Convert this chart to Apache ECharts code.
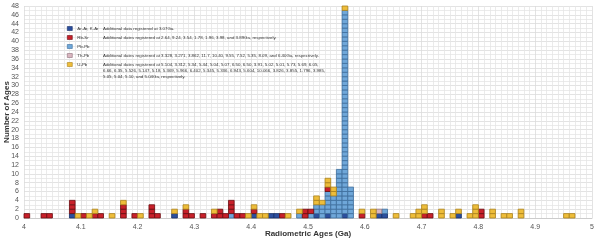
<!DOCTYPE html>
<html>
<head>
<meta charset="utf-8">
<script src="https://cdn.jsdelivr.net/npm/echarts@6/dist/echarts.min.js"></script>
<style>
  html, body { margin: 0; padding: 0; background: #fff; }
  #chart { width: 600px; height: 240px; }
</style>
</head>
<body>
<div id="chart"></div>
<script>
// bin starts, 4.00 .. 4.99 Ga, width 0.01
const binStart = 4.0;
const binWidth = 0.01;

// counts per bin (index = bin number)
const arAr = { 8: 1, 26: 1, 40: 1, 43: 1, 44: 1, 51: 1, 53: 1, 56: 1, 62: 1, 63: 1, 76: 1 };
const pbPb = { 36: 1, 48: 1, 50: 1, 51: 2, 52: 3, 53: 5, 54: 5, 55: 11, 56: 46, 57: 7, 63: 1 };
const rbSr = { 0: 1, 3: 1, 4: 1, 8: 3, 10: 1, 12: 1, 13: 1, 17: 3, 19: 1, 22: 3, 23: 1, 28: 2, 29: 1,
  31: 1, 33: 1, 34: 2, 35: 1, 36: 3, 37: 1, 38: 1, 40: 1, 45: 1, 49: 2, 50: 1, 53: 1, 59: 1,
  70: 1, 71: 1, 80: 2 };
const thPb = { 62: 1 };
const uPb = { 9: 1, 11: 1, 12: 1, 15: 1, 17: 1, 20: 1, 26: 1, 28: 1, 33: 1, 39: 1, 40: 1, 41: 1,
  42: 1, 46: 1, 48: 1, 51: 2, 52: 1, 53: 2, 54: 2, 56: 1, 59: 1, 61: 2, 65: 1, 68: 1, 69: 2,
  70: 2, 73: 2, 75: 1, 76: 1, 78: 1, 79: 3, 82: 2, 84: 1, 85: 1, 87: 2, 95: 1, 96: 1 };

const xTicks = [4, 4.1, 4.2, 4.3, 4.4, 4.5, 4.6, 4.7, 4.8, 4.9, 5];

// legend notes
const notes = {
  "Ar-Ar, K-Ar": "Additional data registered at 3.07Ga.",
  "Rb-Sr": "Additional dates registered at 2.64, 9.24, 3.54, 1.78, 1.96, 3.98, and 3.89Ga, respectively.",
  "Th-Pb": "Additional dates registered at 3.328, 3.271, 3.862, 11.7, 10.40, 9.55, 7.52, 5.35, 8.09, and 6.40Ga, respectively.",
  "U-Pb": "Additional dates registered at 5.104, 3.312, 5.34, 5.44, 5.04, 5.07, 6.50, 6.50, 3.91, 5.02, 5.01, 5.73, 5.69, 6.05,\n" +
    "6.66, 6.35, 5.526, 5.147, 5.18, 5.369, 5.966, 6.402, 5.345, 5.336, 6.943, 5.604, 10.066, 3.826, 3.855, 1.796, 3.985,\n" +
    "5.05, 5.04, 5.10, and 5.04Ga, respectively."
};

// stack order bottom -> top
const methods = [
  { name: "Ar-Ar, K-Ar", counts: arAr, color: "#2c4f9e", border: "#172f66" },
  { name: "Pb-Pb", counts: pbPb, color: "#6fa7d9", border: "#3d6d9c" },
  { name: "Rb-Sr", counts: rbSr, color: "#c8202a", border: "#6a0c10" },
  { name: "Th-Pb", counts: thPb, color: "#d9b6c0", border: "#8e717b" },
  { name: "U-Pb", counts: uPb, color: "#eebd3a", border: "#a9821c" }
];
const legendOrder = ["Ar-Ar, K-Ar", "Rb-Sr", "Pb-Pb", "Th-Pb", "U-Pb"];

const base = {};
const series = methods.map(m => {
  const data = [];
  Object.keys(m.counts).forEach(k => {
    const i = +k;
    const b = base[i] || 0;
    const x = +(binStart + i * binWidth).toFixed(2);
    data.push([x, m.counts[k], b]);
    base[i] = b + m.counts[k];
  });
  return {
    type: "custom",
    name: m.name,
    itemStyle: { color: m.color, borderColor: m.border },
    encode: { x: 0, y: 1 },
    data: data,
    renderItem: (params, api) => {
      const x0 = api.value(0), n = api.value(1), b = api.value(2);
      const kids = [];
      for (let k = 0; k < n; k++) {
        const p0 = api.coord([x0, b + k]);
        const p1 = api.coord([x0 + binWidth, b + k + 1]);
        kids.push({
          type: "rect",
          shape: { x: p0[0], y: p1[1], width: p1[0] - p0[0], height: p0[1] - p1[1] },
          style: { fill: m.color, stroke: m.border, lineWidth: 0.8 }
        });
      }
      return { type: "group", children: kids };
    }
  };
});

const chart = echarts.init(document.getElementById("chart"), null, { renderer: "canvas" });

const noteTops = { "Ar-Ar, K-Ar": 25.5, "Rb-Sr": 34.5, "Th-Pb": 52.5, "U-Pb": 61.5 };
const graphics = Object.keys(notes).map(k => ({
  type: "text",
  left: 103,
  top: noteTops[k],
  z: 100,
  style: { text: notes[k], fontSize: 4.4, lineHeight: 6, fill: "#333", fontFamily: "Arial, Liberation Sans, sans-serif" }
}));

chart.setOption({
  animation: false,
  textStyle: { fontFamily: "Arial, Liberation Sans, sans-serif" },
  grid: { left: 24, right: 8, top: 6, bottom: 22, outerBoundsMode: "none", containLabel: false },
  legend: {
    orient: "vertical",
    left: 67,
    top: 26,
    padding: 0,
    itemWidth: 5,
    itemHeight: 4,
    itemGap: 4,
    icon: "rect",
    textStyle: { fontSize: 4.4, lineHeight: 5, color: "#333" },
    data: legendOrder.map(n => {
      const m = methods.find(q => q.name === n);
      return { name: n, itemStyle: { color: m.color, borderColor: m.border, borderWidth: 0.6 } };
    })
  },
  graphic: graphics,
  xAxis: {
    type: "value",
    min: 4,
    max: 5,
    interval: 0.1,
    name: "Radiometric Ages (Ga)",
    nameLocation: "middle",
    nameGap: 12,
    nameMoveOverlap: false,
    nameTextStyle: { fontSize: 8, fontWeight: "bold", color: "#333" },
    axisLine: { show: true, lineStyle: { color: "#ccc" } },
    axisTick: { show: false },
    axisLabel: { fontSize: 7, color: "#555", margin: 6, formatter: v => xTicks.includes(+v.toFixed(1)) ? String(+v.toFixed(1)) : "" },
    splitLine: { show: true, lineStyle: { color: "#dcdcdc", width: 0.8 } },
    minorTick: { show: false, splitNumber: 10 },
    minorSplitLine: { show: true, lineStyle: { color: "#e6e6e6", width: 0.8 } }
  },
  yAxis: {
    type: "value",
    min: 0,
    max: 48,
    interval: 2,
    name: "Number of Ages",
    nameLocation: "middle",
    nameGap: 13,
    nameMoveOverlap: false,
    nameTextStyle: { fontSize: 8, fontWeight: "bold", color: "#333" },
    axisLine: { show: false },
    axisTick: { show: false },
    axisLabel: { fontSize: 7, color: "#555", margin: 5 },
    splitLine: { show: true, lineStyle: { color: "#dcdcdc", width: 0.8 } },
    minorTick: { show: false, splitNumber: 2 },
    minorSplitLine: { show: true, lineStyle: { color: "#e6e6e6", width: 0.8 } }
  },
  series: series
});
</script>
</body>
</html>
